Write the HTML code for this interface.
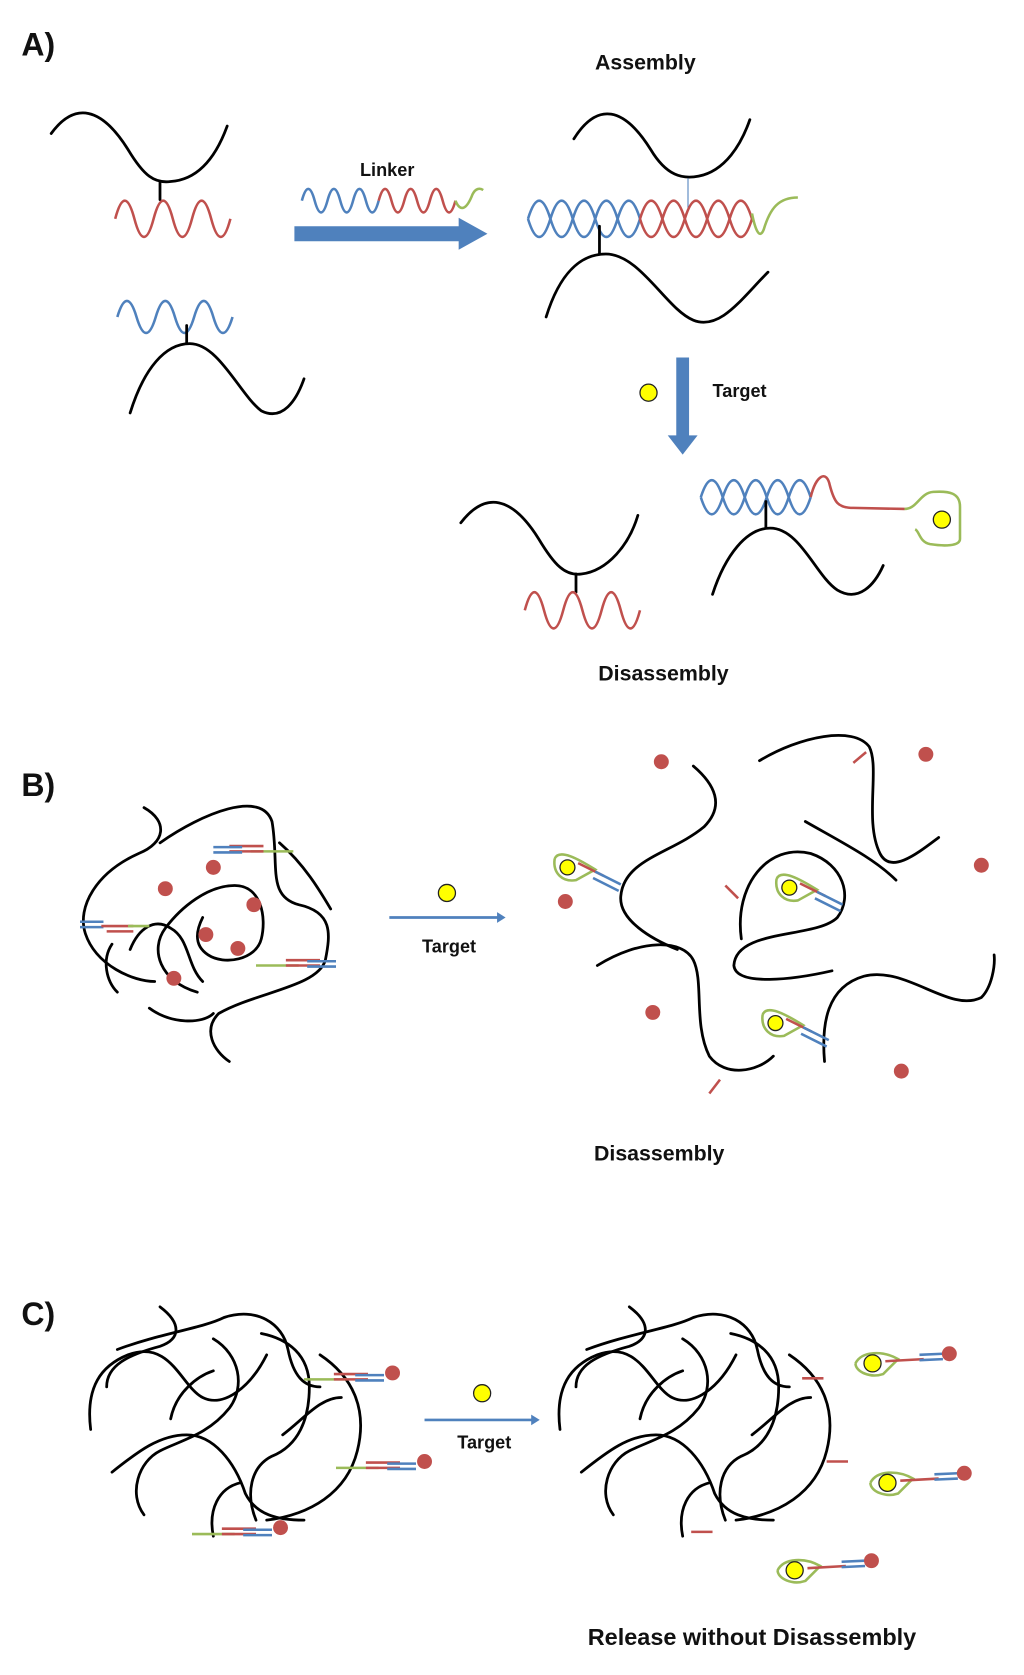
<!DOCTYPE html>
<html><head><meta charset="utf-8"><style>
html,body{margin:0;padding:0;background:#fff}
svg{display:block}
text{font-family:"Liberation Sans",sans-serif;font-weight:bold;fill:#111}
.k{fill:none;stroke:#000;stroke-width:2.6;stroke-linecap:round}
.r{fill:none;stroke:#c0504d;stroke-width:2.4}
.b{fill:none;stroke:#4f81bd;stroke-width:2.4}
.g{fill:none;stroke:#9bbb59;stroke-width:2.4}
.dot{fill:#c0504d}
.y{fill:#ffff00;stroke:#222;stroke-width:1.2}
</style></head><body>
<svg width="1024" height="1675" viewBox="0 0 960 1570" xmlns="http://www.w3.org/2000/svg">
<defs>
<g id="rel">
<path class="g" d="M-16,0 C-10,-12 10,-12 24,-4 L10,10 C-2,14 -16,8 -16,0"/>
<circle class="y" cx="0" cy="0" r="8"/>
<path class="r" d="M12,-2 L48,-4"/>
<path class="b" d="M44,-8 L66,-9 M44,-3 L66,-4"/>
<circle class="dot" cx="72" cy="-9" r="7"/>
</g>
<g id="relB">
<path class="g" d="M-12,-8 C-8,-18 10,-8 26,2 L8,12 C-4,14 -14,6 -12,-8"/>
<circle class="y" cx="0" cy="0" r="7"/>
<path class="r" d="M10,-4 L34,8"/>
<path class="b" d="M26,4 L50,16 M24,10 L48,22"/>
</g>
<g id="strand">
<path class="g" d="M0,0 L40,0"/>
<path class="r" d="M28,-5 L60,-5 M28,0 L60,0"/>
<path class="b" d="M48,-4 L75,-4 M48,1 L75,1"/>
</g>
<g id="tangle">
<path class="k" d="M150,1225 C170,1240 170,1255 150,1262 C120,1270 100,1280 100,1300"/>
<path class="k" d="M110,1265 C150,1250 190,1245 210,1235 C240,1225 265,1240 270,1265 C275,1290 285,1300 300,1300"/>
<path class="k" d="M85,1340 C80,1300 95,1280 120,1270 C160,1255 170,1300 190,1310 C210,1320 235,1300 250,1270"/>
<path class="k" d="M200,1255 C225,1270 230,1300 215,1320 C195,1345 170,1350 150,1360 C130,1370 120,1400 135,1420"/>
<path class="k" d="M245,1250 C270,1255 290,1270 290,1300 C290,1330 280,1355 255,1365 C235,1375 230,1400 240,1425"/>
<path class="k" d="M300,1270 C330,1290 345,1320 335,1360 C325,1400 290,1420 250,1425"/>
<path class="k" d="M105,1380 C130,1360 150,1345 175,1345 C200,1345 220,1370 230,1400 C240,1420 260,1425 285,1425"/>
<path class="k" d="M265,1345 C285,1330 300,1310 320,1310"/>
<path class="k" d="M200,1440 C195,1415 205,1395 225,1390"/>
<path class="k" d="M160,1330 C165,1305 185,1290 200,1285"/>
</g>
</defs>

<!-- Panel A -->
<text x="20" y="52" font-size="30">A)</text>
<text x="605" y="65" font-size="20" text-anchor="middle">Assembly</text>

<path class="k" d="M48,125 C70,95 95,100 120,140 C135,165 145,172 160,170 C190,168 205,140 213,118"/>
<path class="k" d="M150,170 L150,187" stroke-width="2"/>
<path class="r" d="M108,205 q9,-34 18,0 t18,0 t18,0 t18,0 t18,0 t18,0"/>
<path class="b" d="M110,297 q9,-30 18,0 t18,0 t18,0 t18,0 t18,0 t18,0"/>
<path class="k" d="M175,305 L175,322" stroke-width="2"/>
<path class="k" d="M122,387 C135,345 155,322 178,322 C205,322 225,370 245,385 C265,395 278,375 285,355"/>

<text x="363" y="165" font-size="17" text-anchor="middle">Linker</text>
<path class="b" d="M283,188 q6,-22 12,0 t12,0 t12,0 t12,0 t12,0 t12,0"/>
<path class="r" d="M355,188 q6,-22 12,0 t12,0 t12,0 t12,0 t12,0 t12,0"/>
<path class="g" d="M427,188 C432,200 438,195 443,182 C446,176 450,176 453,178"/>
<path d="M276,212 L430,212 L430,204 L457,219 L430,234 L430,226 L276,226 Z" fill="#4f81bd"/>

<path class="k" d="M538,130 C560,95 585,100 610,140 C625,165 640,168 655,165 C680,160 695,135 703,112"/>
<path d="M645,167 L645,195" stroke="#4f81bd" stroke-width="1"/>
<path class="b" d="M495,205 q10.5,-34 21,0 t21,0 t21,0 t21,0 t21,0"/>
<path class="b" d="M495,205 q10.5,34 21,0 t21,0 t21,0 t21,0 t21,0"/>
<path class="r" d="M600,205 q10.5,-34 21,0 t21,0 t21,0 t21,0 t21,0"/>
<path class="r" d="M600,205 q10.5,34 21,0 t21,0 t21,0 t21,0 t21,0"/>
<path class="g" d="M705,200 C708,215 712,225 716,215 C722,195 730,185 748,185"/>
<path class="k" d="M562,212 L562,238" stroke-width="2"/>
<path class="k" d="M512,297 C525,255 545,238 568,238 C600,238 625,290 650,300 C675,310 695,280 720,255"/>

<path d="M634,335 L646,335 L646,408 L654,408 L640,426 L626,408 L634,408 Z" fill="#4f81bd"/>
<circle class="y" cx="608" cy="368" r="8"/>
<text x="668" y="372" font-size="17">Target</text>

<path class="k" d="M432,490 C455,460 480,465 505,505 C520,530 530,540 545,538 C570,535 590,510 598,483"/>
<path class="k" d="M540,538 L540,555" stroke-width="2"/>
<path class="r" d="M492,572 q9,-34 18,0 t18,0 t18,0 t18,0 t18,0 t18,0"/>

<path class="b" d="M657,466 q10.3,-32 20.6,0 t20.6,0 t20.6,0 t20.6,0 t20.6,0"/>
<path class="b" d="M657,466 q10.3,32 20.6,0 t20.6,0 t20.6,0 t20.6,0 t20.6,0"/>
<path class="r" d="M760,466 C765,445 775,440 778,455 C782,470 785,476 800,476 L848,477"/>
<path class="g" d="M848,477 C860,477 862,462 875,461 C890,460 900,462 900,475 L900,505 C900,512 885,512 872,510 C862,508 862,498 858,496"/>
<circle class="y" cx="883" cy="487" r="8"/>
<path class="k" d="M718,470 L718,495" stroke-width="2"/>
<path class="k" d="M668,557 C680,520 700,495 722,495 C750,495 765,540 785,553 C805,565 820,548 828,530"/>

<text x="622" y="638" font-size="20" text-anchor="middle">Disassembly</text>

<!-- Panel B -->
<text x="20" y="746" font-size="30">B)</text>
<path class="k" d="M135,757 C158,770 155,790 130,800 C90,818 72,850 80,875 C90,905 125,920 145,920"/>
<path class="k" d="M150,790 C190,762 245,740 255,770 C262,810 250,840 280,848 C312,855 310,875 305,900 C298,925 240,930 205,950 C190,965 200,985 215,995"/>
<path class="k" d="M262,790 C285,810 300,835 310,852"/>
<path class="k" d="M122,890 C130,870 145,860 160,870 C178,880 175,905 190,920"/>
<path class="k" d="M185,930 C150,920 140,890 155,870 C170,850 195,830 220,830 C245,830 250,860 245,880 C240,900 210,905 195,895 C180,885 185,870 190,860"/>
<path class="k" d="M140,945 C160,960 190,960 200,950"/>
<path class="k" d="M105,885 C95,900 100,920 110,930"/>
<circle class="dot" cx="155" cy="833" r="7"/><circle class="dot" cx="200" cy="813" r="7"/>
<circle class="dot" cx="238" cy="848" r="7"/><circle class="dot" cx="193" cy="876" r="7"/>
<circle class="dot" cx="223" cy="889" r="7"/><circle class="dot" cx="163" cy="917" r="7"/>
<g transform="translate(275,798) scale(-1,1)"><use href="#strand"/></g>
<g transform="translate(75,868)"><path class="b" d="M0,-4 L22,-4 M0,1 L22,1"/><path class="r" d="M20,0 L50,0 M25,5 L50,5"/><path class="g" d="M45,0 L65,0"/></g>
<g transform="translate(240,905)"><use href="#strand"/></g>

<path d="M365,860 L468,860" stroke="#4f81bd" stroke-width="2.5"/>
<path d="M466,855 L474,860 L466,865 Z" fill="#4f81bd"/>
<circle class="y" cx="419" cy="837" r="8"/>
<text x="421" y="893" font-size="17" text-anchor="middle">Target</text>

<path class="k" d="M650,718 C670,735 680,755 660,775 C630,800 585,805 582,840 C580,862 610,880 635,890"/>
<path class="k" d="M712,713 C750,690 800,680 815,700 C825,720 810,770 825,800 C835,820 860,800 880,785"/>
<path class="r" d="M812,705 L800,715"/>
<path class="k" d="M755,770 C790,790 820,805 840,825"/>
<path class="k" d="M695,880 C688,830 720,790 760,800 C790,810 800,840 785,860 C765,880 690,870 688,905 C690,925 745,918 780,910"/>
<path class="r" d="M680,830 L692,842"/>
<path class="k" d="M560,905 C600,880 640,880 650,900 C660,920 650,960 665,990 C680,1010 710,1005 725,990"/>
<path class="r" d="M675,1012 L665,1025"/>
<path class="k" d="M773,995 C770,960 775,925 810,915 C850,905 890,950 920,935 C930,925 933,905 932,895"/>
<circle class="dot" cx="620" cy="714" r="7"/><circle class="dot" cx="868" cy="707" r="7"/>
<circle class="dot" cx="920" cy="811" r="7"/><circle class="dot" cx="530" cy="845" r="7"/>
<circle class="dot" cx="612" cy="949" r="7"/><circle class="dot" cx="845" cy="1004" r="7"/>
<g transform="translate(532,813)"><use href="#relB"/></g>
<g transform="translate(740,832)"><use href="#relB"/></g>
<g transform="translate(727,959)"><use href="#relB"/></g>
<text x="618" y="1088" font-size="20" text-anchor="middle">Disassembly</text>

<!-- Panel C -->
<text x="20" y="1242" font-size="30">C)</text>
<use href="#tangle"/>
<g transform="translate(440,0)"><use href="#tangle"/></g>
<g transform="translate(285,1293)"><use href="#strand"/></g><circle class="dot" cx="368" cy="1287" r="7"/>
<g transform="translate(315,1376)"><use href="#strand"/></g><circle class="dot" cx="398" cy="1370" r="7"/>
<g transform="translate(180,1438)"><use href="#strand"/></g><circle class="dot" cx="263" cy="1432" r="7"/>

<path d="M398,1331 L500,1331" stroke="#4f81bd" stroke-width="2.5"/>
<path d="M498,1326 L506,1331 L498,1336 Z" fill="#4f81bd"/>
<circle class="y" cx="452" cy="1306" r="8"/>
<text x="454" y="1358" font-size="17" text-anchor="middle">Target</text>

<path class="r" d="M752,1292 L772,1292 M775,1370 L795,1370 M648,1436 L668,1436"/>
<g transform="translate(818,1278)"><use href="#rel"/></g>
<g transform="translate(832,1390)"><use href="#rel"/></g>
<g transform="translate(745,1472)"><use href="#rel"/></g>

<text x="705" y="1542" font-size="22" text-anchor="middle">Release without Disassembly</text>
</svg>
</body></html>
